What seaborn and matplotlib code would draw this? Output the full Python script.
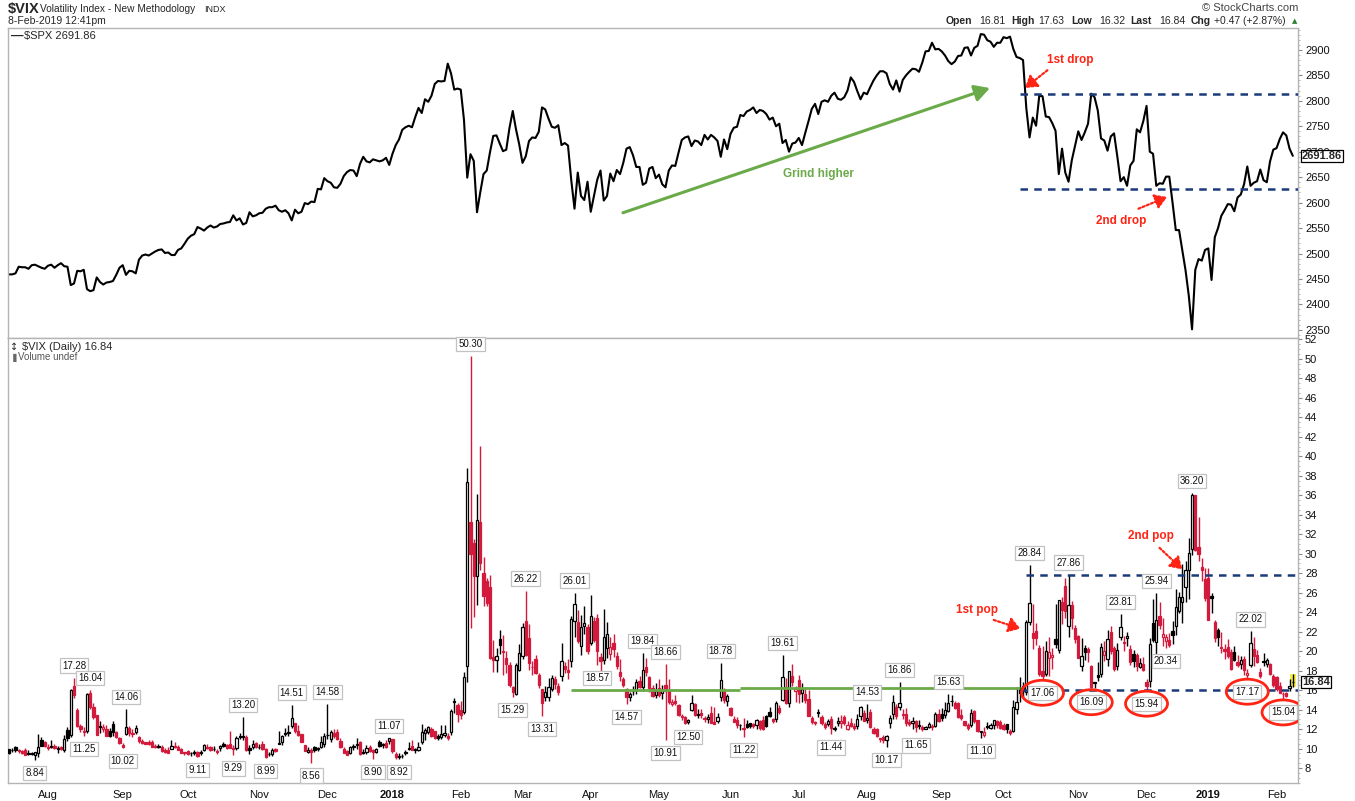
import numpy as np
import pandas as pd
import matplotlib
matplotlib.use("Agg")
import matplotlib.pyplot as plt
import seaborn as sns
from matplotlib.patches import Ellipse, Rectangle
from matplotlib.ticker import MultipleLocator

# ------------------------------------------------------------------ data
holidays = ["2017-09-04", "2017-11-23", "2017-12-25", "2018-01-01", "2018-01-15",
            "2018-02-19", "2018-03-30", "2018-05-28", "2018-07-04", "2018-09-03",
            "2018-11-22", "2018-12-05", "2018-12-25", "2019-01-01", "2019-01-21"]
start_date, end_date = "2017-07-14", "2019-02-08"

month_labels = ["Aug", "Sep", "Oct", "Nov", "Dec", "2018", "Feb", "Mar", "Apr", "May", "Jun",
                "Jul", "Aug", "Sep", "Oct", "Nov", "Dec", "2019", "Feb"]

# S&P 500 daily closes, one list per month
spx_2017_07 = [2459, 2459, 2461, 2474, 2473, 2473, 2470, 2477, 2478, 2475, 2472, 2470]
spx_2017_08 = [2476, 2478, 2472, 2477, 2481, 2475, 2474, 2438, 2441, 2466, 2465, 2468, 2430,
               2426, 2428, 2453, 2444, 2439, 2443, 2444, 2446, 2458, 2472]
spx_2017_09 = [2477, 2458, 2466, 2465, 2461, 2488, 2496, 2498, 2496, 2500, 2504, 2507, 2508,
               2501, 2502, 2497, 2497, 2507, 2510, 2519]
spx_2017_10 = [2529, 2535, 2538, 2552, 2549, 2545, 2551, 2555, 2551, 2553, 2558, 2559, 2561,
               2562, 2575, 2565, 2569, 2557, 2560, 2581, 2573, 2575]
spx_2017_11 = [2579, 2580, 2588, 2591, 2591, 2594, 2585, 2582, 2585, 2579, 2565, 2586, 2579,
               2582, 2599, 2597, 2602, 2601, 2627, 2626, 2648]
spx_2017_12 = [2642, 2639, 2630, 2629, 2637, 2652, 2660, 2664, 2663, 2652, 2676, 2690, 2681,
               2679, 2685, 2683, 2681, 2683, 2688, 2674]
spx_2018_01 = [2696, 2713, 2724, 2743, 2748, 2751, 2748, 2768, 2786, 2776, 2803, 2798, 2810,
               2833, 2839, 2838, 2839, 2873, 2854, 2822, 2824]
spx_2018_02 = [2822, 2762, 2649, 2695, 2682, 2581, 2620, 2656, 2663, 2699, 2731, 2732, 2716,
               2701, 2704, 2747, 2780, 2744, 2714]
spx_2018_03 = [2678, 2691, 2721, 2728, 2727, 2739, 2787, 2783, 2765, 2749, 2747, 2752, 2713,
               2717, 2712, 2644, 2588, 2659, 2613, 2605, 2641]
spx_2018_04 = [2582, 2614, 2645, 2663, 2604, 2613, 2657, 2642, 2664, 2656, 2678, 2706, 2709,
               2693, 2670, 2670, 2635, 2639, 2667, 2670, 2648]
spx_2018_05 = [2655, 2636, 2630, 2663, 2673, 2672, 2698, 2723, 2728, 2730, 2711, 2722, 2720,
               2713, 2733, 2724, 2733, 2728, 2721, 2690, 2724, 2705]
spx_2018_06 = [2735, 2747, 2749, 2772, 2770, 2779, 2782, 2787, 2776, 2782, 2780, 2774, 2763,
               2767, 2750, 2755, 2717, 2723, 2700, 2716, 2718]
spx_2018_07 = [2727, 2713, 2737, 2760, 2784, 2794, 2774, 2798, 2801, 2798, 2810, 2816, 2804,
               2802, 2807, 2820, 2846, 2837, 2819, 2803, 2816]
spx_2018_08 = [2813, 2827, 2840, 2850, 2858, 2858, 2854, 2833, 2822, 2840, 2818, 2841, 2850,
               2857, 2863, 2862, 2857, 2875, 2897, 2898, 2914, 2901, 2902]
spx_2018_09 = [2897, 2889, 2878, 2872, 2877, 2888, 2889, 2904, 2905, 2889, 2904, 2908, 2931,
               2930, 2919, 2916, 2906, 2914, 2914]
spx_2018_10 = [2925, 2923, 2926, 2902, 2886, 2884, 2880, 2786, 2728, 2767, 2751, 2810, 2809,
               2769, 2768, 2756, 2741, 2656, 2706, 2659, 2641, 2683, 2712]
spx_2018_11 = [2740, 2723, 2738, 2755, 2814, 2807, 2781, 2726, 2722, 2702, 2730, 2736, 2691,
               2642, 2650, 2633, 2673, 2682, 2744, 2738, 2760]
spx_2018_12 = [2790, 2700, 2696, 2633, 2638, 2637, 2651, 2651, 2600, 2546, 2546, 2507, 2467,
               2417, 2351, 2468, 2489, 2486, 2507]
spx_2019_01 = [2510, 2448, 2532, 2550, 2574, 2585, 2597, 2596, 2583, 2610, 2616, 2636, 2671,
               2633, 2639, 2642, 2665, 2644, 2640, 2681, 2704]
spx_2019_02 = [2707, 2725, 2738, 2732, 2706, 2691.86]

# VIX daily candles (open, high, low, close), one list per month
vix_2017_07 = [(9.90, 9.97, 9.46, 9.51), (9.81, 10.01, 9.62, 9.82), (10.13, 10.25, 9.63, 9.89),
               (9.80, 9.91, 9.55, 9.79), (9.72, 9.86, 9.41, 9.58), (9.85, 10.01, 9.31, 9.36),
               (9.56, 9.84, 9.36, 9.43), (9.47, 9.61, 9.31, 9.43), (9.32, 9.63, 8.84, 9.60),
               (9.50, 11.44, 9.14, 10.11), (10.87, 11.22, 10.21, 10.29), (10.62, 10.77, 10.18, 10.26)]
vix_2017_08 = [(10.20, 10.46, 9.86, 10.09), (10.12, 10.92, 10.03, 10.28), (10.25, 10.49, 9.92, 10.03),
               (9.91, 10.29, 9.56, 10.03), (10.11, 10.31, 9.86, 9.93), (9.89, 11.34, 9.66, 10.96),
               (11.93, 12.26, 10.76, 11.11), (11.37, 16.11, 11.18, 16.04), (16.44, 17.28, 15.19, 15.51),
               (13.93, 14.20, 12.17, 12.33), (12.34, 12.50, 11.66, 12.04), (11.70, 12.26, 11.25, 11.74),
               (11.77, 15.66, 11.58, 15.55), (15.65, 16.04, 14.04, 14.26), (14.30, 14.64, 13.06, 13.19),
               (13.40, 13.46, 11.35, 11.35), (12.34, 12.79, 11.64, 12.25), (12.00, 12.49, 11.73, 12.23),
               (12.02, 12.38, 11.24, 11.28), (11.75, 12.15, 11.19, 11.32), (12.51, 12.84, 11.25, 11.70),
               (11.71, 11.82, 11.04, 11.22), (11.03, 11.19, 10.46, 10.59)]
vix_2017_09 = [(10.38, 10.57, 10.02, 10.13), (11.52, 14.06, 11.40, 12.23), (12.14, 12.36, 11.29, 11.63),
               (11.51, 12.01, 11.17, 11.55), (11.69, 12.41, 11.46, 12.12), (11.23, 11.27, 10.58, 10.73),
               (10.80, 10.93, 10.42, 10.58), (10.63, 10.72, 10.42, 10.50), (10.65, 10.90, 10.35, 10.44),
               (10.64, 10.85, 10.12, 10.17), (10.24, 10.51, 10.03, 10.15), (10.24, 10.45, 10.03, 10.18),
               (10.20, 10.39, 9.60, 9.78), (9.81, 10.01, 9.58, 9.67), (9.83, 10.15, 9.57, 9.59),
               (9.96, 10.84, 9.94, 10.21), (10.20, 10.63, 10.04, 10.17), (10.16, 10.39, 9.84, 9.87),
               (9.98, 10.05, 9.49, 9.55), (9.62, 9.69, 9.36, 9.51)]
vix_2017_10 = [(9.73, 9.81, 9.32, 9.45), (9.50, 9.62, 9.19, 9.51), (9.58, 9.80, 9.33, 9.63),
               (9.65, 9.70, 9.11, 9.19), (9.56, 9.81, 9.30, 9.65), (9.88, 10.47, 9.79, 10.33),
               (10.18, 10.48, 9.93, 10.08), (10.11, 10.25, 9.73, 9.85), (9.94, 10.26, 9.78, 9.91),
               (9.72, 9.97, 9.45, 9.61), (10.06, 10.36, 9.79, 10.31), (10.43, 10.68, 10.16, 10.31),
               (10.38, 10.49, 9.98, 10.07), (10.51, 11.79, 10.03, 10.05), (10.09, 10.32, 9.29, 9.97),
               (10.09, 11.30, 9.89, 11.07), (11.25, 11.58, 10.95, 11.16), (11.27, 13.20, 10.89, 11.23),
               (11.15, 11.34, 9.74, 9.80), (10.06, 10.37, 9.43, 9.80), (10.12, 10.88, 9.99, 10.50),
               (10.60, 10.67, 10.09, 10.18)]
vix_2017_11 = [(10.14, 10.45, 9.98, 10.20), (10.48, 10.82, 9.86, 9.93), (9.95, 10.06, 8.99, 9.14),
               (9.47, 9.60, 9.23, 9.40), (9.43, 10.06, 9.26, 9.89), (9.94, 10.06, 9.68, 9.78),
               (10.53, 11.80, 10.46, 10.50), (10.68, 11.42, 10.40, 11.29), (11.63, 12.13, 11.28, 11.50),
               (11.63, 12.38, 11.33, 11.59), (12.34, 14.51, 12.15, 13.13), (12.58, 12.65, 11.55, 11.76),
               (11.84, 12.38, 11.29, 11.43), (11.49, 11.52, 10.62, 10.65), (10.35, 10.38, 9.71, 9.73),
               (9.69, 10.14, 9.50, 9.88), (9.87, 10.09, 8.56, 9.67), (10.12, 10.22, 9.67, 9.87),
               (9.91, 10.18, 9.73, 10.03), (10.18, 11.28, 10.07, 10.70), (10.44, 11.57, 10.20, 11.28)]
vix_2017_12 = [(11.34, 14.58, 10.94, 11.43), (10.94, 11.90, 10.63, 11.68), (11.55, 12.01, 11.05, 11.33),
               (11.67, 12.05, 10.88, 11.02), (10.80, 11.09, 10.05, 10.16), (9.98, 10.12, 9.50, 9.58),
               (9.79, 9.83, 9.31, 9.34), (9.52, 10.27, 9.41, 10.18), (10.17, 10.50, 9.80, 10.18),
               (10.33, 11.10, 9.97, 10.49), (10.64, 10.75, 9.34, 9.42), (9.64, 9.91, 9.45, 9.53),
               (9.60, 10.36, 9.44, 10.03), (10.15, 10.40, 9.66, 9.72), (9.80, 9.97, 8.90, 9.62),
               (9.63, 10.04, 9.53, 9.90), (10.63, 10.85, 10.14, 10.25), (10.36, 10.56, 10.02, 10.47),
               (10.58, 10.87, 10.09, 10.18), (10.73, 11.07, 10.46, 11.04)]
vix_2018_01 = [(10.95, 10.99, 9.52, 9.77), (9.48, 9.65, 8.92, 9.15), (9.10, 9.54, 8.92, 9.22),
               (9.28, 9.40, 8.99, 9.22), (9.61, 9.84, 9.38, 9.52), (9.90, 10.67, 9.81, 10.08),
               (10.31, 10.91, 9.89, 9.82), (9.84, 10.07, 9.51, 9.88), (9.89, 10.70, 9.77, 10.16),
               (10.67, 12.56, 10.49, 11.66), (11.63, 12.15, 10.89, 11.91), (11.67, 12.32, 11.50, 12.22),
               (12.01, 12.25, 11.22, 11.27), (11.80, 11.82, 10.99, 11.03), (11.31, 11.54, 10.83, 11.10),
               (11.15, 12.40, 10.97, 11.47), (11.40, 12.40, 11.22, 11.58), (11.33, 11.58, 10.90, 11.08),
               (11.65, 14.04, 11.40, 13.84), (14.93, 15.20, 13.62, 14.79), (14.46, 14.72, 12.72, 13.54)]
vix_2018_02 = [(13.98, 14.87, 13.00, 13.47), (13.78, 17.82, 13.56, 17.31), (18.44, 38.80, 16.80, 37.32),
               (33.24, 50.30, 22.42, 29.98), (31.11, 31.50, 23.54, 27.73), (27.74, 36.17, 24.78, 33.46),
               (33.23, 41.06, 28.34, 29.06), (28.07, 29.68, 24.68, 25.61), (27.21, 27.50, 24.64, 24.97),
               (26.57, 27.84, 19.20, 19.26), (19.38, 21.12, 17.86, 19.13), (19.06, 20.36, 17.83, 19.46),
               (21.25, 22.12, 19.68, 20.60), (19.91, 21.69, 17.60, 20.02), (19.32, 19.99, 17.71, 18.72),
               (18.59, 18.91, 16.32, 16.49), (16.31, 16.40, 15.29, 15.80), (15.60, 18.80, 15.47, 18.59),
               (18.08, 20.72, 17.97, 19.85)]
vix_2018_03 = [(19.48, 22.91, 19.17, 22.47), (23.08, 26.22, 19.47, 19.59), (21.33, 22.77, 18.08, 18.73),
               (18.36, 18.97, 17.57, 18.36), (19.17, 19.59, 17.64, 17.76), (17.60, 17.71, 16.21, 16.54),
               (16.08, 16.10, 13.31, 14.64), (15.29, 16.38, 14.87, 15.78), (15.30, 17.22, 14.86, 16.35),
               (16.10, 17.60, 15.94, 17.23), (17.10, 17.48, 16.07, 16.59), (16.37, 16.76, 15.51, 15.80),
               (17.49, 20.82, 16.91, 19.02), (18.52, 18.89, 17.78, 18.20), (18.04, 19.18, 17.14, 17.86),
               (18.98, 23.59, 18.39, 23.34), (23.08, 26.01, 21.47, 24.87), (22.96, 24.18, 20.82, 21.03),
               (20.55, 23.68, 19.65, 22.50), (22.61, 24.61, 21.72, 22.87), (22.46, 22.82, 19.74, 19.97)]
vix_2018_04 = [(20.80, 25.72, 20.62, 23.62), (23.06, 23.52, 20.89, 21.10), (23.43, 23.84, 18.57, 20.06),
               (19.37, 19.81, 17.82, 18.94), (19.06, 24.29, 18.68, 21.49), (20.34, 23.03, 19.34, 21.77),
               (19.72, 21.43, 19.13, 20.47), (20.88, 21.71, 19.44, 20.24), (19.53, 19.88, 18.18, 18.49),
               (17.86, 19.23, 16.94, 17.41), (17.10, 17.34, 16.33, 16.56), (16.07, 16.22, 14.57, 15.25),
               (15.34, 15.81, 14.84, 15.60), (15.92, 16.41, 15.50, 15.96), (16.00, 17.10, 15.62, 16.88),
               (16.97, 17.45, 16.17, 16.34), (16.36, 19.84, 15.88, 18.02), (18.40, 19.29, 17.45, 17.84),
               (17.30, 17.45, 15.85, 16.24), (16.18, 16.49, 15.33, 15.41), (15.54, 16.74, 15.20, 15.93)]
vix_2018_05 = [(16.18, 17.09, 15.25, 15.49), (15.69, 16.48, 15.07, 15.97), (16.56, 18.66, 10.91, 15.90),
               (15.86, 17.14, 14.52, 14.77), (14.62, 15.11, 14.41, 14.75), (14.92, 15.46, 14.48, 14.71),
               (14.47, 14.55, 13.35, 13.42), (13.30, 13.54, 12.90, 13.23), (13.23, 13.39, 12.56, 12.65),
               (12.75, 13.07, 12.50, 12.93), (13.99, 15.54, 13.82, 14.63), (14.53, 14.64, 13.36, 13.42),
               (13.52, 14.04, 13.12, 13.43), (13.61, 14.09, 13.15, 13.42), (13.09, 13.33, 12.75, 13.08),
               (13.03, 13.57, 12.59, 13.22), (13.67, 14.35, 12.58, 12.58), (12.76, 14.25, 12.53, 12.53),
               (12.83, 13.64, 12.66, 13.22), (15.27, 18.78, 14.86, 17.02), (16.06, 16.24, 14.71, 14.94),
               (14.85, 15.62, 14.32, 15.43)]
vix_2018_06 = [(14.19, 14.24, 13.34, 13.46), (13.00, 13.33, 12.69, 12.74), (12.94, 13.19, 12.14, 12.40),
               (12.42, 12.56, 11.86, 12.40), (11.97, 13.11, 11.22, 12.13), (12.54, 12.88, 12.06, 12.18),
               (12.57, 12.64, 12.11, 12.35), (12.52, 12.66, 12.11, 12.34), (12.40, 13.08, 11.98, 12.94),
               (12.82, 12.97, 11.89, 12.12), (12.90, 13.35, 11.87, 11.98), (13.30, 13.41, 12.25, 12.31),
               (13.77, 14.25, 13.20, 13.35), (13.08, 13.16, 12.63, 12.79), (13.02, 14.88, 12.76, 14.64),
               (14.18, 14.47, 13.54, 13.77), (14.96, 19.61, 14.91, 17.33), (16.31, 17.25, 14.58, 14.64),
               (14.66, 17.99, 14.31, 17.91), (17.49, 18.68, 16.41, 16.85), (15.93, 16.37, 14.74, 16.09)]
vix_2018_07 = [(17.07, 17.60, 14.65, 15.60), (15.65, 16.75, 14.76, 16.14), (15.55, 16.32, 14.65, 14.97),
               (15.05, 16.05, 13.31, 13.37), (13.13, 13.36, 12.55, 12.69), (12.71, 12.86, 12.37, 12.64),
               (13.79, 14.04, 13.27, 13.63), (13.28, 13.47, 12.39, 12.58), (12.54, 12.69, 12.05, 12.18),
               (12.55, 13.07, 12.33, 12.83), (13.04, 13.38, 11.44, 12.06), (12.03, 12.30, 11.83, 12.10),
               (12.58, 13.19, 12.31, 12.87), (12.64, 13.42, 12.14, 12.86), (13.28, 13.41, 12.46, 12.62),
               (12.05, 12.86, 11.94, 12.41), (12.59, 13.14, 12.16, 12.29), (12.36, 12.58, 11.93, 12.14),
               (12.31, 13.51, 12.01, 13.03), (13.35, 14.34, 12.88, 14.26), (13.66, 14.00, 12.81, 12.83)]
vix_2018_08 = [(12.90, 14.53, 12.59, 13.15), (13.78, 14.01, 12.12, 12.19), (12.05, 12.21, 11.47, 11.64),
               (12.03, 12.08, 11.20, 11.27), (11.09, 11.12, 10.62, 10.93), (11.18, 11.37, 10.53, 10.85),
               (10.92, 11.38, 10.17, 11.27), (12.64, 13.42, 12.08, 13.16), (13.57, 15.48, 13.08, 14.78),
               (14.31, 14.53, 13.08, 13.31), (14.24, 16.86, 13.97, 14.64), (13.55, 14.04, 13.08, 13.45),
               (13.52, 14.14, 12.33, 12.64), (12.75, 12.98, 12.32, 12.49), (12.62, 13.28, 12.05, 12.86),
               (12.86, 12.92, 11.65, 12.25), (12.31, 12.92, 11.98, 12.41), (12.16, 12.39, 11.84, 11.99),
               (11.98, 12.36, 11.96, 12.16), (12.25, 12.76, 12.13, 12.50), (12.33, 12.56, 11.93, 12.25),
               (12.29, 13.77, 12.17, 13.53), (13.52, 14.09, 12.77, 12.86)]
vix_2018_09 = [(13.56, 14.13, 12.80, 13.16), (13.49, 14.78, 13.10, 13.91), (13.81, 15.63, 13.73, 14.65),
               (14.85, 15.51, 14.35, 14.88), (14.71, 14.91, 14.09, 14.16), (14.66, 14.82, 13.09, 13.22),
               (13.43, 14.07, 12.94, 13.14), (12.81, 12.84, 12.32, 12.37), (12.43, 12.65, 11.92, 12.07),
               (12.40, 14.03, 12.24, 13.68), (13.86, 13.99, 12.62, 12.79), (12.94, 12.96, 11.68, 11.75),
               (11.70, 11.81, 11.10, 11.80), (11.40, 12.22, 11.18, 11.68), (12.34, 12.77, 12.01, 12.20),
               (12.12, 12.63, 12.00, 12.42), (12.44, 12.96, 11.97, 12.89), (12.80, 12.93, 12.14, 12.41),
               (12.76, 12.91, 11.99, 12.12)]
vix_2018_10 = [(12.41, 12.59, 11.86, 12.00), (12.49, 12.56, 11.62, 12.05), (11.84, 12.01, 11.34, 11.61),
               (11.76, 15.00, 11.66, 14.22), (14.01, 16.30, 13.56, 14.82), (16.24, 17.36, 14.77, 15.69),
               (16.43, 16.78, 15.28, 15.95), (15.78, 23.20, 15.50, 22.96), (22.96, 28.84, 22.73, 24.98),
               (21.85, 24.87, 20.22, 21.31), (22.11, 22.91, 20.66, 21.30), (20.27, 20.65, 17.40, 17.62),
               (17.91, 20.49, 17.06, 17.40), (17.69, 21.03, 17.46, 20.06), (19.31, 21.43, 17.42, 19.89),
               (19.36, 20.31, 18.16, 19.64), (21.20, 24.81, 20.27, 20.71), (20.07, 25.23, 19.80, 25.23),
               (25.08, 25.56, 22.81, 24.22), (26.69, 27.46, 23.44, 24.16), (22.59, 27.86, 21.40, 24.70),
               (24.69, 25.11, 22.28, 23.35), (22.40, 22.73, 20.88, 21.23)]
vix_2018_11 = [(21.58, 21.68, 19.26, 19.34), (18.47, 21.36, 17.94, 19.51), (20.29, 20.63, 19.14, 19.96),
               (20.21, 20.44, 18.93, 19.91), (18.43, 18.59, 16.09, 16.36), (16.81, 16.86, 16.19, 16.72),
               (17.57, 18.85, 16.93, 17.36), (17.66, 20.83, 17.33, 20.45), (19.62, 21.05, 19.01, 20.02),
               (19.22, 22.20, 18.46, 21.25), (21.98, 22.53, 19.75, 19.98), (20.29, 20.49, 17.94, 18.14),
               (18.43, 20.88, 18.11, 20.10), (21.44, 23.81, 21.11, 22.48), (20.91, 21.56, 19.97, 20.80),
               (21.36, 21.95, 20.49, 21.52), (20.22, 20.67, 18.62, 18.90), (19.70, 20.09, 18.41, 19.02),
               (19.57, 19.77, 17.93, 18.49), (18.37, 19.34, 18.29, 18.79), (18.69, 19.42, 17.93, 18.07)]
vix_2018_12 = [(16.79, 17.15, 15.94, 16.44), (16.93, 21.33, 16.34, 20.74), (22.90, 25.31, 20.91, 21.19),
               (20.92, 25.94, 19.70, 23.23), (23.59, 25.02, 22.32, 22.64), (21.44, 23.38, 20.54, 21.76),
               (21.06, 21.79, 20.34, 21.46), (21.16, 21.82, 20.44, 20.65), (22.07, 23.09, 20.78, 21.63),
               (22.63, 26.34, 21.65, 24.52), (24.10, 26.10, 23.88, 25.58), (25.06, 28.90, 22.89, 25.58),
               (26.63, 29.22, 25.01, 28.38), (28.36, 31.65, 25.32, 30.11), (30.50, 36.20, 29.88, 36.07),
               (35.98, 36.05, 30.24, 30.41), (30.71, 33.81, 29.30, 29.96), (28.67, 29.57, 27.24, 28.34),
               (27.36, 28.53, 25.15, 25.42)]
vix_2019_01 = [(27.54, 28.53, 23.18, 23.22), (25.65, 25.96, 23.91, 25.45), (22.94, 23.19, 20.92, 21.38),
               (22.17, 22.40, 20.54, 21.40), (20.36, 22.01, 19.78, 20.47), (20.25, 20.72, 19.20, 19.98),
               (20.47, 21.21, 19.31, 19.50), (19.96, 20.23, 18.05, 18.19), (19.87, 20.56, 18.98, 19.07),
               (18.85, 19.62, 18.38, 18.60), (18.65, 19.53, 18.20, 19.04), (19.21, 19.51, 17.55, 18.06),
               (17.59, 18.14, 17.17, 17.80), (18.60, 22.02, 18.40, 20.80), (20.18, 21.42, 18.47, 19.52),
               (19.56, 20.14, 18.80, 18.89), (17.89, 18.29, 17.27, 17.42), (18.94, 19.85, 18.43, 18.87),
               (18.63, 19.31, 18.37, 19.13), (18.68, 18.81, 17.53, 17.66), (17.49, 17.66, 16.33, 16.57)]
vix_2019_02 = [(17.36, 17.48, 15.93, 16.14), (16.45, 16.88, 15.69, 15.73), (15.63, 15.84, 15.04, 15.57),
               (15.70, 15.84, 15.26, 15.38), (16.18, 17.12, 15.92, 16.37), (16.81, 17.63, 16.32, 16.84)]

# labelled highs / lows on the VIX panel
vix_high_labels = [("2017-08-11", 17.28), ("2017-08-18", 16.04), ("2017-09-05", 14.06),
                   ("2017-10-25", 13.20), ("2017-11-15", 14.51), ("2017-12-01", 14.58),
                   ("2017-12-29", 11.07), ("2018-02-06", 50.30), ("2018-03-02", 26.22),
                   ("2018-03-23", 26.01), ("2018-04-24", 19.84), ("2018-05-03", 18.66),
                   ("2018-05-29", 18.78), ("2018-06-25", 19.61), ("2018-08-01", 14.53),
                   ("2018-08-15", 16.86), ("2018-09-06", 15.63), ("2018-10-11", 28.84),
                   ("2018-10-29", 27.86), ("2018-11-20", 23.81), ("2018-12-07", 25.94),
                   ("2018-12-24", 36.20), ("2019-01-22", 22.02)]
vix_low_labels = [("2017-07-26", 8.84), ("2017-08-16", 11.25), ("2017-09-01", 10.02),
                  ("2017-10-05", 9.11), ("2017-10-20", 9.29), ("2017-11-03", 8.99),
                  ("2017-11-24", 8.56), ("2017-12-21", 8.90), ("2018-01-04", 8.92),
                  ("2018-02-26", 15.29), ("2018-03-09", 13.31), ("2018-04-04", 18.57),
                  ("2018-04-17", 14.57), ("2018-05-03", 10.91), ("2018-05-14", 12.50),
                  ("2018-06-07", 11.22), ("2018-07-17", 11.44), ("2018-08-09", 10.17),
                  ("2018-08-22", 11.65), ("2018-09-20", 11.10), ("2018-10-17", 17.06),
                  ("2018-11-07", 16.09), ("2018-12-03", 15.94), ("2018-12-12", 20.34),
                  ("2019-01-18", 17.17), ("2019-02-05", 15.04)]
circled_lows = ["2018-10-17", "2018-11-07", "2018-12-03", "2019-01-18", "2019-02-05"]

# annotation levels
spx_range_top, spx_range_bottom = 2813, 2626
vix_range_top, vix_range_bottom = 27.8, 16.0
vix_support_left, vix_support_right = 16.05, 16.2
spx_last, vix_last = 2691.86, 16.84

# ------------------------------------------------------------------ build series
dates = pd.bdate_range(start_date, end_date)
dates = dates[~dates.isin(pd.to_datetime(holidays))]
n = len(dates)
spx = np.concatenate([spx_2017_07, spx_2017_08, spx_2017_09, spx_2017_10, spx_2017_11,
                      spx_2017_12, spx_2018_01, spx_2018_02, spx_2018_03, spx_2018_04,
                      spx_2018_05, spx_2018_06, spx_2018_07, spx_2018_08, spx_2018_09,
                      spx_2018_10, spx_2018_11, spx_2018_12, spx_2019_01, spx_2019_02])
vix = np.array(vix_2017_07 + vix_2017_08 + vix_2017_09 + vix_2017_10 + vix_2017_11 +
               vix_2017_12 + vix_2018_01 + vix_2018_02 + vix_2018_03 + vix_2018_04 +
               vix_2018_05 + vix_2018_06 + vix_2018_07 + vix_2018_08 + vix_2018_09 +
               vix_2018_10 + vix_2018_11 + vix_2018_12 + vix_2019_01 + vix_2019_02)
assert len(spx) == n and len(vix) == n, (len(spx), len(vix), n)
pos = np.arange(n)
O, H, L, C = vix.T
idx_of = {d.strftime("%Y-%m-%d"): i for i, d in enumerate(dates)}
month_starts = [i for i in range(1, n) if dates[i].month != dates[i - 1].month]

# ------------------------------------------------------------------ style
sns.set_style("white")
plt.rcParams["font.family"] = ["Liberation Sans", "DejaVu Sans"]
RED = "#d41a3c"
ARED = "#ff2414"
GREEN = "#6aaa48"
NAVY = "#1b3a7a"
GREY = "#b4b4b4"

W, Hpx = 1355, 801
fig = plt.figure(figsize=(W / 100, Hpx / 100), dpi=100)
fig.patch.set_facecolor("white")


def ftext(x, y, s, **kw):
    return fig.text(x / W, 1 - y / Hpx, s, **kw)


ax1 = fig.add_axes([8 / W, 1 - 338 / Hpx, 1290 / W, 310 / Hpx])
ax2 = fig.add_axes([8 / W, 1 - 783 / Hpx, 1290 / W, 445 / Hpx], sharex=ax1)
XL = (-0.3, 396.6)

for ax in (ax1, ax2):
    for s in ax.spines.values():
        s.set_color(GREY)
        s.set_linewidth(1.0)
    ax.yaxis.tick_right()
    ax.tick_params(axis="y", which="major", length=3, color="#888888", pad=2,
                   labelsize=8, labelcolor="#111111")
    ax.tick_params(axis="y", which="minor", length=1.5, color="#aaaaaa")

# ------------------------------------------------------------------ SPX panel
sns.lineplot(x=pos, y=spx, ax=ax1, color="black", linewidth=1.5, legend=False)
ax1.set_xlim(*XL)
ax1.set_ylim(2334, 2943)
ax1.set_yticks(np.arange(2350, 2901, 50))
ax1.yaxis.set_minor_locator(MultipleLocator(10))
ax1.tick_params(axis="x", which="both", length=0, labelbottom=False)
ax1.set_xlabel("")
ax1.set_ylabel("")

i_end = n - 1 + 1.5
ax1.hlines([spx_range_top, spx_range_bottom], 311, i_end, colors=NAVY, linewidth=1.8,
           linestyles=(0, (3, 2.5)), zorder=4)
ax1.annotate("", xy=(301.8, 2825), xytext=(188.9, 2580),
             arrowprops=dict(arrowstyle="-|>,head_length=0.9,head_width=0.5", color=GREEN,
                             lw=2.2, shrinkA=0, shrinkB=0), zorder=5)
ax1.text(248.9, 2656, "Grind higher", color=GREEN, fontsize=8.5, fontweight="bold",
         ha="center", va="center")
ax1.text(326.5, 2880, "1st drop", color=ARED, fontsize=8.5, fontweight="bold",
         ha="center", va="center")
ax1.annotate("", xy=(312.6, 2825), xytext=(319.5, 2860),
             arrowprops=dict(arrowstyle="-|>,head_length=0.7,head_width=0.45", color=ARED,
                             lw=1.6, linestyle=(0, (1, 1)), shrinkA=0, shrinkB=0))
ax1.text(342.2, 2564, "2nd drop", color=ARED, fontsize=8.5, fontweight="bold",
         ha="center", va="center")
ax1.annotate("", xy=(356.3, 2611), xytext=(347.5, 2588),
             arrowprops=dict(arrowstyle="-|>,head_length=0.7,head_width=0.45", color=ARED,
                             lw=1.6, linestyle=(0, (1, 1)), shrinkA=0, shrinkB=0))
ax1.text(1.003, spx_last, f"{spx_last:.2f}", transform=ax1.get_yaxis_transform(),
         fontsize=8, fontweight="bold", va="center", ha="left", zorder=10, clip_on=False,
         bbox=dict(boxstyle="square,pad=0.12", fc="white", ec="black", lw=0.9))

# ------------------------------------------------------------------ VIX panel
ax2.set_xlim(*XL)
ax2.set_ylim(6.46, 52.15)
prevC = np.r_[C[0], C[:-1]]
col = np.where(C >= prevC, "black", RED)
hollow = C >= O

# last-bar highlight
ax2.add_patch(Rectangle((n - 1 - 0.9, L[-1]), 1.8, H[-1] - L[-1], facecolor="#f6ee4a",
                        edgecolor="none", zorder=1))
ax2.vlines(pos, L, H, colors=col, linewidth=1.0, zorder=2)
body_bottom = np.minimum(O, C)
body_h = np.maximum(np.abs(C - O), 0.06)
face = np.where(hollow, "white", col)
ax2.bar(pos, body_h, bottom=body_bottom, width=0.72, color=face, edgecolor=col,
        linewidth=0.9, zorder=3)

ax2.set_yticks(np.arange(8, 53, 2))
ax2.yaxis.set_minor_locator(MultipleLocator(0.5))
ax2.set_xticks(month_starts)
ax2.set_xticklabels(month_labels)
for lbl in ax2.get_xticklabels():
    lbl.set_fontsize(8)
    lbl.set_color("#111111")
    if lbl.get_text().isdigit():
        lbl.set_fontweight("bold")
ax2.set_xticks(pos, minor=True)
ax2.tick_params(axis="x", which="major", length=3, color="#888888", pad=2)
ax2.tick_params(axis="x", which="minor", length=1.2, color="#bbbbbb")

ax2.hlines(vix_support_left, 173, 225, colors=GREEN, linewidth=2.0, zorder=4)
ax2.hlines(vix_support_right, 225, 311, colors=GREEN, linewidth=2.0, zorder=4)
ax2.hlines(vix_range_top, 313, i_end, colors=NAVY, linewidth=1.8,
           linestyles=(0, (3, 2.5)), zorder=4)
ax2.hlines(vix_range_bottom, 311, i_end, colors=NAVY, linewidth=1.8,
           linestyles=(0, (3, 2.5)), zorder=4)

box = dict(boxstyle="square,pad=0.22", fc="white", ec="#c2c2c2", lw=0.9)
for d, v in vix_high_labels:
    ax2.annotate(f"{v:.2f}", (idx_of[d], v), xytext=(0, 12), textcoords="offset pixels",
                 ha="center", va="center", fontsize=7, color="#111111", bbox=box, zorder=6)
for d, v in vix_low_labels:
    ax2.annotate(f"{v:.2f}", (idx_of[d], v), xytext=(0, -13), textcoords="offset pixels",
                 ha="center", va="center", fontsize=7, color="#111111", bbox=box, zorder=6)

ypp = (52.15 - 6.46) / 445.0
low_map = dict(vix_low_labels)
for d in circled_lows:
    v = low_map[d]
    ax2.add_patch(Ellipse((idx_of[d], v - 13 * ypp), 42 / 3.25, 25 * ypp, fill=False,
                          edgecolor=ARED, linewidth=2.0, zorder=7))

ax2.text(297.8, 24.2, "1st pop", color=ARED, fontsize=8.5, fontweight="bold",
         ha="center", va="center")
ax2.annotate("", xy=(311.2, 22.3), xytext=(303.0, 23.2),
             arrowprops=dict(arrowstyle="-|>,head_length=0.7,head_width=0.45", color=ARED,
                             lw=1.6, linestyle=(0, (1, 1)), shrinkA=0, shrinkB=0))
ax2.text(351.4, 31.8, "2nd pop", color=ARED, fontsize=8.5, fontweight="bold",
         ha="center", va="center")
ax2.annotate("", xy=(361.0, 28.4), xytext=(354.0, 30.6),
             arrowprops=dict(arrowstyle="-|>,head_length=0.7,head_width=0.45", color=ARED,
                             lw=1.6, linestyle=(0, (1, 1)), shrinkA=0, shrinkB=0))
ax2.text(1.003, vix_last, f"{vix_last:.2f}", transform=ax2.get_yaxis_transform(),
         fontsize=8, fontweight="bold", va="center", ha="left", zorder=10, clip_on=False,
         bbox=dict(boxstyle="square,pad=0.12", fc="white", ec="black", lw=0.9))
ax2.set_xlabel("")
ax2.set_ylabel("")

# ------------------------------------------------------------------ header text
ftext(8, 9, "$VIX", fontsize=10.5, fontweight="bold", va="center")
ftext(40, 9, "Volatility Index - New Methodology", fontsize=7.3, va="center")
ftext(204, 9, "INDX", fontsize=6.5, va="center")
ftext(8, 21, "8-Feb-2019 12:41pm", fontsize=7.5, va="center")
ftext(1298, 8, "\u00a9 StockCharts.com", fontsize=8, va="center", ha="right", color="#444444")
hdr = [(946, "Open", True), (979, "16.81", False), (1011, "High", True), (1038, "17.63", False),
       (1071, "Low", True), (1099, "16.32", False), (1130, "Last", True), (1159, "16.84", False),
       (1191, "Chg", True), (1214, "+0.47 (+2.87%)", False)]
for x, s, b in hdr:
    ftext(x, 21, s, fontsize=7.5, va="center", fontweight="bold" if b else "normal")
ftext(1292, 21, "\u25b2", fontsize=5, va="center", color="#2e7d32",
      family=["DejaVu Sans"])

ftext(11, 36, "\u2014", fontsize=9, fontweight="bold", va="center")
ftext(24, 36, "$SPX 2691.86", fontsize=8, va="center")
ftext(10, 347, "\u2195", fontsize=7, va="center", family=["DejaVu Sans"])
ftext(22, 347, "$VIX (Daily) 16.84", fontsize=8, va="center")
ftext(10, 357, "\u2590", fontsize=6, va="center", color="#666666", family=["DejaVu Sans"])
ftext(18, 357, "Volume undef", fontsize=7, va="center", color="#555555")

fig.savefig("out.png", dpi=100, facecolor="white")
